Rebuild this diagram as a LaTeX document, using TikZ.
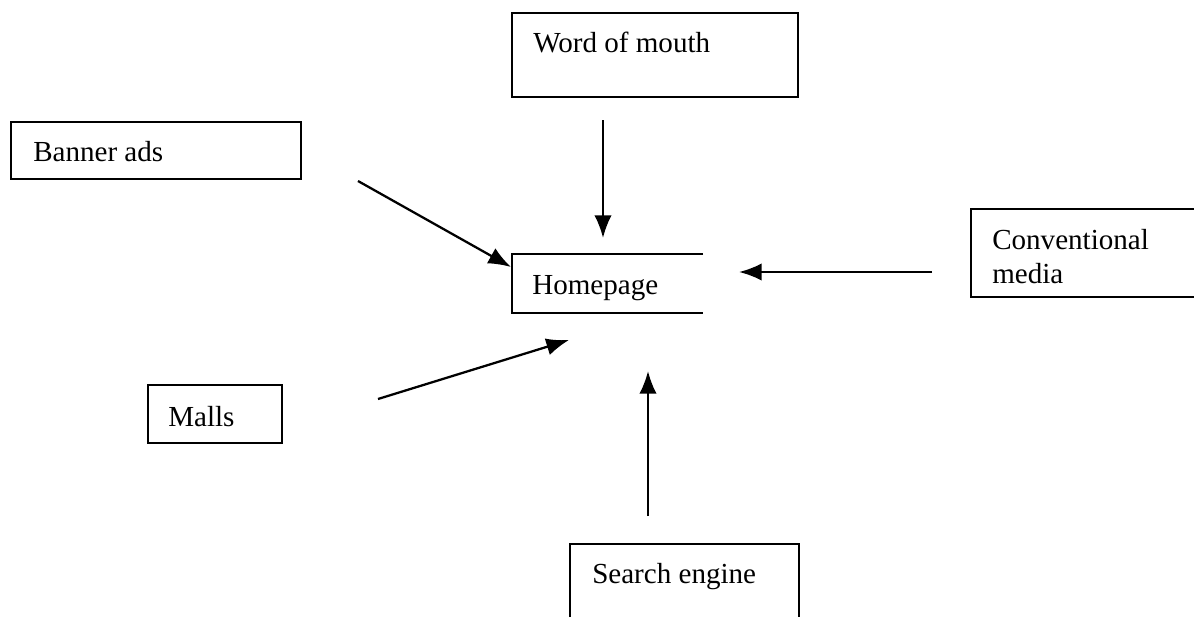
\documentclass[tikz,border=0pt]{standalone}
\usepackage{fontspec}
\setmainfont{Liberation Serif}
\usetikzlibrary{arrows.meta}
\begin{document}
\begin{tikzpicture}[x=0.75pt,y=-0.75pt,
  boxline/.style={line width=1.3pt,line join=miter},
  lbl/.style={anchor=base west,inner sep=0pt,font=\fontsize{21.8}{24.8}\selectfont,align=left},
  conn/.style={line width=1.7pt,-{Latex[length=17pt,width=13pt]}}]
\useasboundingbox (0,0) rectangle (1194,617);
% boxes
\draw[boxline] (512,13) rectangle (798,97);
\draw[boxline] (11,122) rectangle (301,179);
\draw[boxline] (703,254) -- (512,254) -- (512,313) -- (703,313);
\draw[boxline] (1194,209) -- (971,209) -- (971,297) -- (1194,297);
\draw[boxline] (148,385) rectangle (282,443);
\draw[boxline] (570,617) -- (570,544) -- (799,544) -- (799,617);
% labels
\node[lbl] (wom) at (533,53) {Word of mouth};
\node[lbl] (ban) at (33,161) {Banner ads};
\node[lbl] (home) at (532,294) {Homepage};
\node[lbl] (conv) at (992,283) {Conventional\\media};
\node[lbl] (mall) at (168,426) {Malls};
\node[lbl] (srch) at (592,583) {Search engine};
% connector ends
\coordinate (womS) at (603,120);
\coordinate (womE) at (603,238);
\coordinate (banS) at (358,181);
\coordinate (banE) at (511,267);
\coordinate (convS) at (932,272);
\coordinate (convE) at (739,272);
\coordinate (mallS) at (378,399);
\coordinate (mallE) at (569,340);
\coordinate (srchS) at (648,516);
\coordinate (srchE) at (648,371);
\draw[conn] (womS) -- (womE);
\draw[conn] (banS) -- (banE);
\draw[conn] (convS) -- (convE);
\draw[conn] (mallS) -- (mallE);
\draw[conn] (srchS) -- (srchE);
\end{tikzpicture}
\end{document}
